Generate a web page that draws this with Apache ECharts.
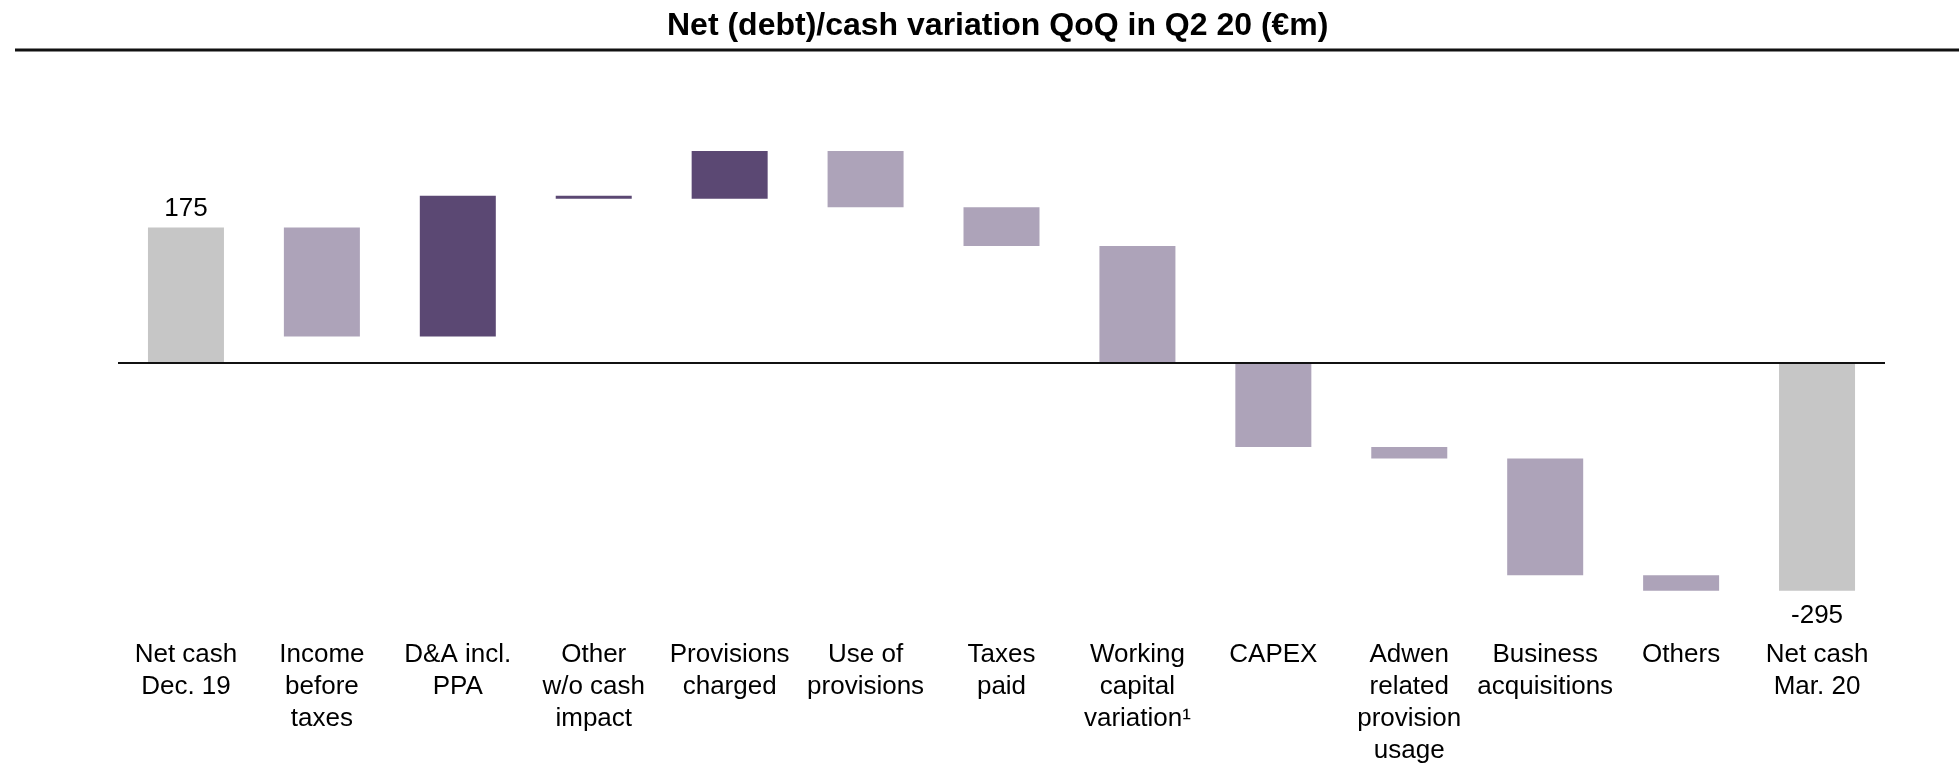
<!DOCTYPE html>
<html>
<head>
<meta charset="utf-8">
<title>Net (debt)/cash variation QoQ</title>
<script src="https://cdn.jsdelivr.net/npm/echarts@6/dist/echarts.min.js"></script>
<style>
  html, body { margin: 0; padding: 0; background: #fff; }
  #chart { width: 1959px; height: 767px; }
</style>
</head>
<body>
<div id="chart"></div>
<script>
// categories (x axis)
var categories = [
  'Net cash\nDec. 19', 'Income\nbefore\ntaxes', 'D&A incl.\nPPA', 'Other\nw/o cash\nimpact',
  'Provisions\ncharged', 'Use of\nprovisions', 'Taxes\npaid', 'Working\ncapital\nvariation\u00b9',
  'CAPEX', 'Adwen\nrelated\nprovision\nusage', 'Business\nacquisitions', 'Others', 'Net cash\nMar. 20'
]
// opening / closing net cash (€m)
var openingCash = 175
var closingCash = -295
// movements between the two (€m), one per middle category
var movements = [-141, 182, -4, 62, -73, -50, -151, -109, -15, -151, -20]
// kind of each bar: total, pl (dark) or cash (light)
var barKind = ['total', 'cash', 'pl', 'pl', 'pl', 'cash', 'cash', 'cash', 'cash', 'cash', 'cash', 'cash', 'total']

var kindColor = { total: '#C6C6C6', pl: '#5B4873', cash: '#ADA3B9' }
var font = 'Liberation Sans, Arial, sans-serif'

// build invisible base + visible step for the waterfall
var baseData = []
var stepData = []
var running = openingCash
baseData.push(0)
stepData.push(openingCash)
movements.forEach(function (d) {
  var start = running
  var end = running + d
  if (Math.min(start, end) >= 0) {
    baseData.push(Math.min(start, end))
    stepData.push(Math.abs(d))
  } else {
    baseData.push(Math.max(start, end))
    stepData.push(-Math.abs(d))
  }
  running = end
})
baseData.push(0)
stepData.push(closingCash)

var stepItems = stepData.map(function (v, i) {
  var item = { value: v, itemStyle: { color: kindColor[barKind[i]] } }
  if (i === 0) {
    item.label = { show: true, position: 'top', distance: 6, formatter: String(openingCash) }
  }
  if (i === stepData.length - 1) {
    item.label = { show: true, position: 'bottom', distance: 12, formatter: String(closingCash) }
  }
  return item
})

var chart = echarts.init(document.getElementById('chart'))
var option = {
  animation: false,
  title: {
    text: 'Net (debt)/cash variation QoQ in Q2 20 (\u20acm)',
    left: 662,
    top: 5,
    textStyle: { fontFamily: font, fontSize: 32, fontWeight: 'bold', color: '#000' }
  },
  graphic: [{
    type: 'line',
    shape: { x1: 15, y1: 50, x2: 1959, y2: 50 },
    style: { stroke: '#111', lineWidth: 3 }
  }],
  grid: { left: 118, width: 1767, top: 130.8, height: 480.5 },
  xAxis: {
    type: 'category',
    data: categories,
    axisLine: { show: false },
    axisTick: { show: false },
    axisLabel: {
      interval: 0,
      margin: 29,
      fontFamily: font,
      fontSize: 26,
      lineHeight: 32,
      color: '#000'
    }
  },
  yAxis: {
    type: 'value',
    min: -320,
    max: 300,
    show: false,
    splitLine: { show: false }
  },
  series: [{
    name: 'base',
    type: 'bar',
    stack: 'wf',
    stackStrategy: 'all',
    barWidth: 76,
    itemStyle: { color: 'transparent' },
    silent: true,
    data: baseData
  }, {
    name: 'step',
    type: 'bar',
    stack: 'wf',
    stackStrategy: 'all',
    barWidth: 76,
    label: {
      fontFamily: font,
      fontSize: 26,
      color: '#000'
    },
    markLine: {
      silent: true,
      symbol: 'none',
      label: { show: false },
      lineStyle: { color: '#111', width: 2, type: 'solid' },
      data: [{ yAxis: 0 }]
    },
    data: stepItems
  }]
}
chart.setOption(option)
</script>
</body>
</html>
